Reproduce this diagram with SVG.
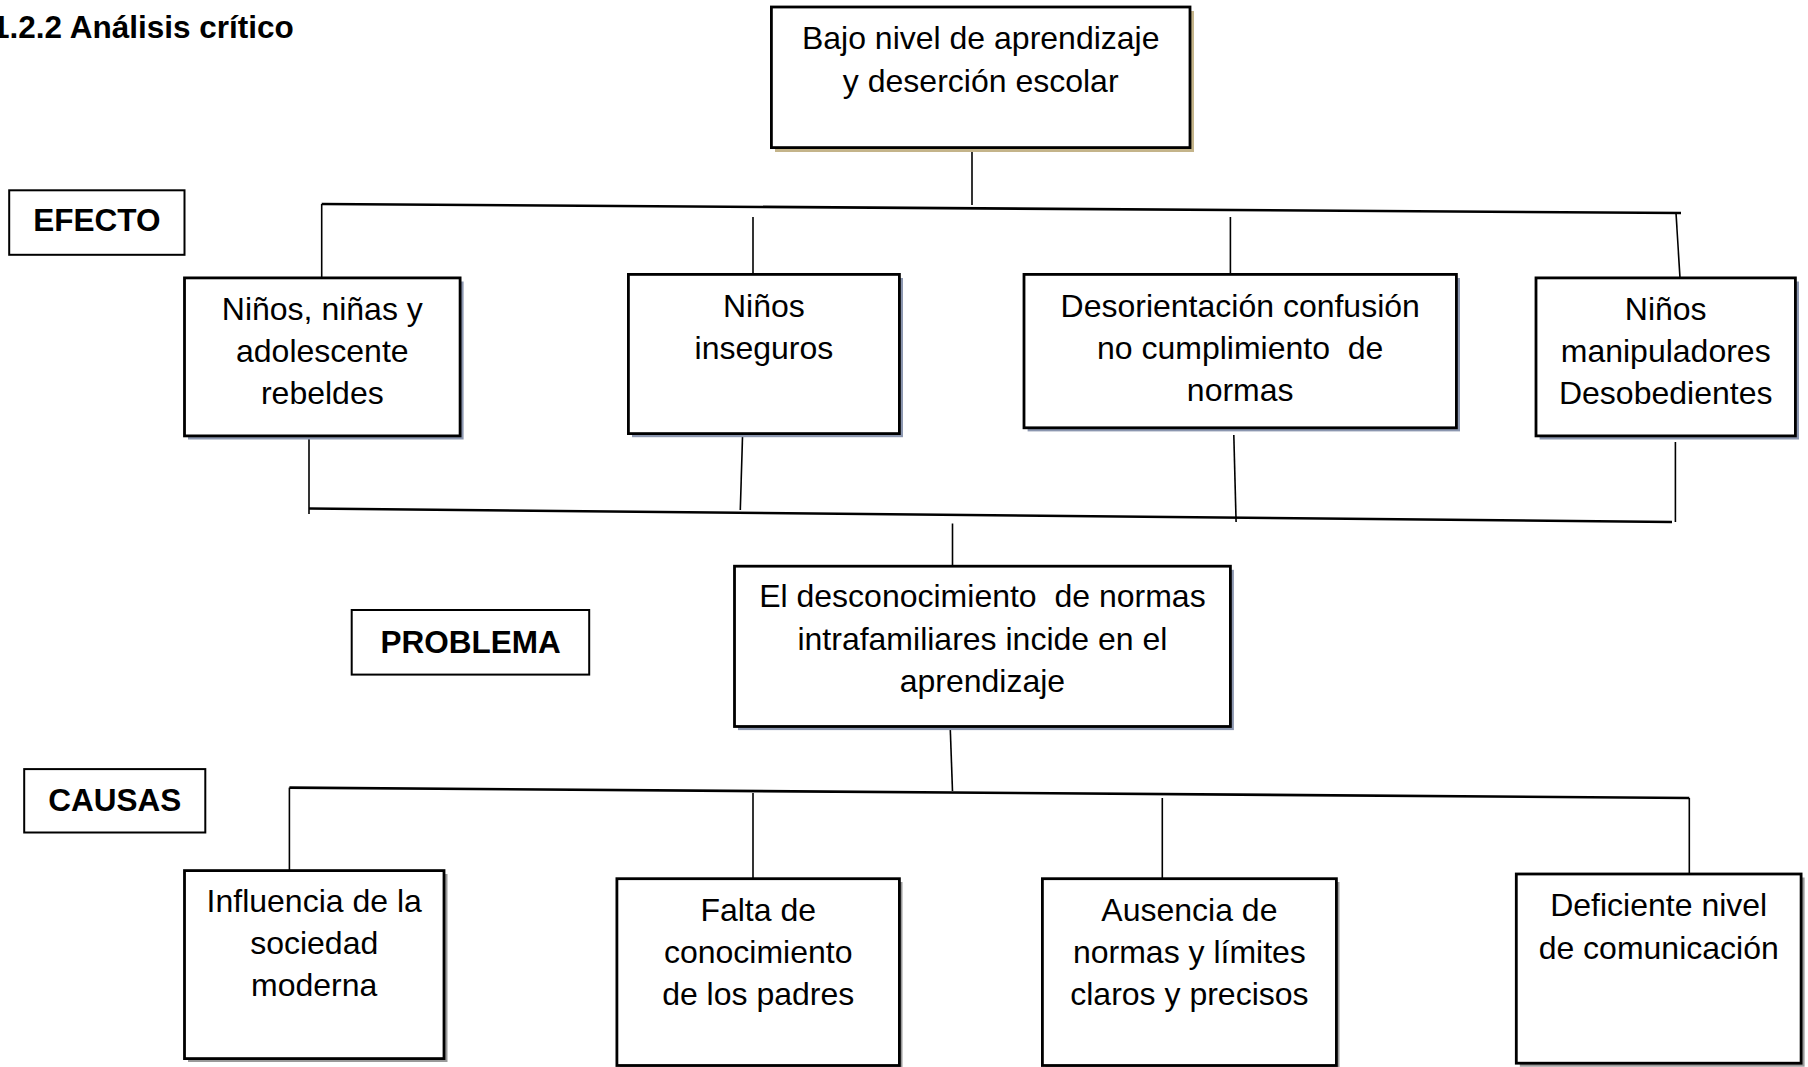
<svg xmlns="http://www.w3.org/2000/svg" width="1808" height="1067" viewBox="0 0 1808 1067">
<style>
.box{fill:#fff;stroke:#000;stroke-width:2.8}
.lbl{fill:#fff;stroke:#000;stroke-width:2}
.sb{fill:#8c97b0}
.st{fill:#c4b48a}
.sg{fill:#9a9a9a}
.t{font-family:"Liberation Sans",Arial,sans-serif;font-size:32px;text-anchor:middle;fill:#000;white-space:pre}
.b{font-family:"Liberation Sans",Arial,sans-serif;font-size:31.5px;font-weight:bold;text-anchor:middle;fill:#000}
.v{stroke:#000;stroke-width:1.6;fill:none}
.h{stroke:#000;stroke-width:2.6;fill:none}
</style>
<rect width="1808" height="1067" fill="#fff"/>
<text x="-8" y="38" font-family="Liberation Sans,Arial,sans-serif" font-size="31.5" font-weight="bold" fill="#000">1.2.2 Análisis crítico</text>

<g id="connectors">
<line class="v" x1="972" y1="148" x2="972" y2="205"/>
<line class="h" x1="321.7" y1="204" x2="1681" y2="213"/>
<line class="v" x1="321.7" y1="204" x2="321.7" y2="278"/>
<line class="v" x1="753" y1="217" x2="753" y2="274"/>
<line class="v" x1="1230.4" y1="217" x2="1230.4" y2="274"/>
<line class="v" x1="1676" y1="213" x2="1680" y2="278"/>
<line class="v" x1="309" y1="432" x2="309" y2="514"/>
<line class="v" x1="742.6" y1="434" x2="740.3" y2="510"/>
<line class="v" x1="1233.8" y1="435" x2="1236.1" y2="522"/>
<line class="v" x1="1675.4" y1="442" x2="1675.4" y2="522"/>
<line class="h" x1="309" y1="508.5" x2="1672" y2="522"/>
<line class="v" x1="952.5" y1="523.5" x2="952.5" y2="566"/>
<line class="v" x1="950.2" y1="727" x2="952.5" y2="791"/>
<line class="h" x1="289.4" y1="787.6" x2="1689.3" y2="798"/>
<line class="v" x1="289.4" y1="787.6" x2="289.4" y2="870"/>
<line class="v" x1="753" y1="793" x2="753" y2="879"/>
<line class="v" x1="1162.3" y1="798" x2="1162.3" y2="879"/>
<line class="v" x1="1689.3" y1="798" x2="1689.3" y2="874"/>
</g>

<g id="efecto-label">
<rect class="lbl" x="9.2" y="190.3" width="175.3" height="64.5"/>
<text class="b" x="96.8" y="231">EFECTO</text>
</g>
<g id="problema-label">
<rect class="lbl" x="351.7" y="610" width="237.5" height="64.6"/>
<text class="b" x="470.5" y="653">PROBLEMA</text>
</g>
<g id="causas-label">
<rect class="lbl" x="24.2" y="769.1" width="181.1" height="63.4"/>
<text class="b" x="114.7" y="811">CAUSAS</text>
</g>

<g id="top">
<rect class="st" x="775" y="11" width="419" height="141"/>
<rect class="box" x="771.4" y="7" width="418.6" height="140.6"/>
<text class="t" x="980.7" y="49">Bajo nivel de aprendizaje</text>
<text class="t" x="980.7" y="92">y deserción escolar</text>
</g>

<g id="e1">
<rect class="sb" x="188" y="281.5" width="275.6" height="158"/>
<rect class="box" x="184.5" y="277.9" width="275.6" height="158"/>
<text class="t" x="322.3" y="320">Niños, niñas y</text>
<text class="t" x="322.3" y="362">adolescente</text>
<text class="t" x="322.3" y="404">rebeldes</text>
</g>
<g id="e2">
<rect class="sb" x="632" y="278" width="271" height="159.2"/>
<rect class="box" x="628.4" y="274.4" width="271" height="159.2"/>
<text class="t" x="763.9" y="317">Niños</text>
<text class="t" x="763.9" y="359">inseguros</text>
</g>
<g id="e3">
<rect class="sb" x="1027.6" y="278" width="432.4" height="153.4"/>
<rect class="box" x="1024" y="274.4" width="432.4" height="153.4"/>
<text class="t" x="1240.2" y="317">Desorientación confusión</text>
<text class="t" x="1240.2" y="359">no cumplimiento  de</text>
<text class="t" x="1240.2" y="401">normas</text>
</g>
<g id="e4">
<rect class="sb" x="1539.6" y="281.5" width="259.4" height="158"/>
<rect class="box" x="1536" y="277.9" width="259.4" height="158"/>
<text class="t" x="1665.7" y="320">Niños</text>
<text class="t" x="1665.7" y="362">manipuladores</text>
<text class="t" x="1665.7" y="404">Desobedientes</text>
</g>

<g id="problem">
<rect class="sb" x="738" y="569.8" width="495.9" height="160.3"/>
<rect class="box" x="734.5" y="566.2" width="495.9" height="160.3"/>
<text class="t" x="982.4" y="607">El desconocimiento  de normas</text>
<text class="t" x="982.4" y="650">intrafamiliares incide en el</text>
<text class="t" x="982.4" y="692">aprendizaje</text>
</g>

<g id="c1">
<rect class="sg" x="188" y="874" width="259.5" height="188"/>
<rect class="box" x="184.5" y="870.6" width="259.5" height="188"/>
<text class="t" x="314.2" y="912">Influencia de la</text>
<text class="t" x="314.2" y="954">sociedad</text>
<text class="t" x="314.2" y="996">moderna</text>
</g>
<g id="c2">
<rect class="sg" x="620" y="882" width="282.5" height="188"/>
<rect class="box" x="616.9" y="878.7" width="282.5" height="186.8"/>
<text class="t" x="758.2" y="921">Falta de</text>
<text class="t" x="758.2" y="963">conocimiento</text>
<text class="t" x="758.2" y="1005">de los padres</text>
</g>
<g id="c3">
<rect class="sg" x="1045.5" y="882" width="294" height="188"/>
<rect class="box" x="1042.4" y="878.7" width="294" height="186.8"/>
<text class="t" x="1189.4" y="921">Ausencia de</text>
<text class="t" x="1189.4" y="963">normas y límites</text>
<text class="t" x="1189.4" y="1005">claros y precisos</text>
</g>
<g id="c4">
<rect class="sg" x="1519.8" y="877.5" width="284.8" height="189.2"/>
<rect class="box" x="1516.3" y="874" width="284.8" height="189.2"/>
<text class="t" x="1658.7" y="916">Deficiente nivel</text>
<text class="t" x="1658.7" y="959">de comunicación</text>
</g>
</svg>
